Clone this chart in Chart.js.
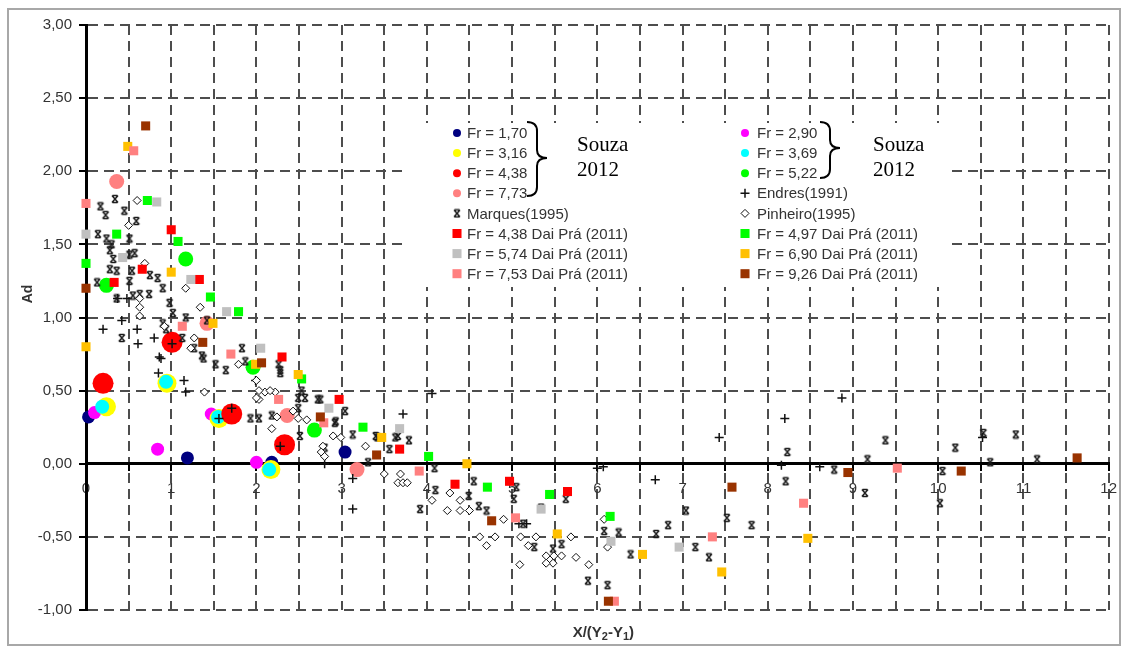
<!DOCTYPE html>
<html>
<head>
<meta charset="utf-8">
<script src="https://cdn.jsdelivr.net/npm/chart.js@4.4.1/dist/chart.umd.min.js"></script>
<style>
  html, body { margin: 0; padding: 0; background: #fff; }
  #wrap { width: 1127px; height: 649px; position: relative; }
</style>
</head>
<body>
<div id="wrap"><canvas id="c" width="1127" height="649"></canvas></div>
<script>
// ---- Souza (2012) runs, [X/(Y2-Y1), Ad] ----
const souza170 = [[0.03, 0.32], [1.19, 0.04], [2.18, 0.01], [3.04, 0.08]];
const souza290 = [[0.10, 0.35], [0.84, 0.10], [1.47, 0.34], [2.00, 0.01]];
const souza316 = [[0.24, 0.39], [0.95, 0.55], [1.56, 0.31], [2.17, -0.04]];
const souza369 = [[0.19, 0.39], [0.94, 0.56], [1.55, 0.32], [2.15, -0.04]];
const souza438 = [[0.20, 0.55], [1.01, 0.83], [1.71, 0.34], [2.33, 0.13]];
const souza522 = [[0.24, 1.22], [1.17, 1.40], [1.96, 0.66], [2.68, 0.23]];
const souza773 = [[0.36, 1.93], [1.42, 0.96], [2.36, 0.33], [3.18, -0.04]];

// ---- Endres (1991) ----
const endres1991 = [
  [0.20, 0.92], [0.42, 0.98], [0.60, 0.92], [0.61, 0.82], [0.80, 0.86], [0.88, 0.72],
  [0.37, 1.13], [0.48, 1.13], [0.86, 0.73], [0.85, 0.62], [1.01, 0.82], [1.17, 0.49],
  [1.15, 0.57], [1.56, 0.31], [1.71, 0.38], [1.99, 0.57], [2.28, 0.12], [2.80, 0.00],
  [3.13, -0.10], [3.13, -0.31], [3.72, 0.34], [4.06, 0.48], [5.08, -0.41], [5.17, -0.41],
  [6.00, -0.03], [6.07, -0.02], [6.68, -0.11], [7.43, 0.18], [8.16, -0.01], [8.20, 0.31],
  [8.61, -0.02], [8.87, 0.45], [10.52, 0.18]
];

// ---- Marques (1995) ----
const marques1995 = [
  [0.34, 1.81], [0.17, 1.76], [0.23, 1.70], [0.45, 1.73], [0.59, 1.66], [0.14, 1.57],
  [0.24, 1.54], [0.30, 1.50], [0.51, 1.54], [0.28, 1.46], [0.32, 1.40], [0.51, 1.43],
  [0.57, 1.44], [0.28, 1.33], [0.13, 1.24], [0.36, 1.32], [0.54, 1.32], [0.51, 1.25],
  [0.75, 1.29], [0.84, 1.27], [0.36, 1.13], [0.55, 1.15], [0.63, 1.16], [0.74, 1.16],
  [0.90, 1.20], [0.98, 1.10], [1.02, 1.03], [0.90, 0.96], [1.17, 1.00], [0.42, 0.86],
  [0.94, 0.92], [1.13, 0.86], [1.27, 0.79], [1.38, 0.72], [1.42, 0.98], [1.83, 0.79],
  [1.87, 0.70], [1.36, 0.74], [1.52, 0.68], [1.64, 0.64], [2.26, 0.68], [2.28, 0.64],
  [2.53, 0.50], [2.72, 0.44], [3.04, 0.36], [2.93, 0.29], [1.93, 0.31], [2.03, 0.31],
  [2.49, 0.38], [2.18, 0.33], [2.28, 0.62], [2.49, 0.45], [2.92, 0.28], [2.51, 0.19],
  [3.13, 0.20], [3.40, 0.19], [3.66, 0.19], [3.56, 0.10], [3.31, 0.01], [2.80, 0.11],
  [2.57, 0.45], [2.75, 0.44], [3.42, 0.18], [3.63, 0.18], [3.79, 0.16], [4.09, -0.03],
  [4.10, -0.18], [3.92, -0.31], [4.55, -0.12], [4.49, -0.22], [4.61, -0.29], [4.70, -0.32],
  [5.05, -0.16], [5.02, -0.24], [5.13, -0.41], [5.63, -0.24], [5.34, -0.30], [5.26, -0.57],
  [5.48, -0.58], [5.58, -0.55], [6.08, -0.46], [6.25, -0.47], [5.89, -0.80], [6.12, -0.83],
  [6.39, -0.62], [6.69, -0.48], [6.83, -0.42], [7.04, -0.32], [7.15, -0.57], [7.31, -0.64],
  [7.52, -0.37], [7.81, -0.42], [8.23, 0.08], [8.21, -0.12], [8.78, -0.04], [9.17, 0.03],
  [9.14, -0.20], [9.38, 0.16], [10.20, 0.11], [10.05, -0.05], [10.02, -0.27], [10.53, 0.21],
  [10.61, 0.01], [10.91, 0.20], [11.16, 0.03]
];

// ---- Pinheiro (1995) ----
const pinheiro1995 = [
  [0.60, 1.80], [0.50, 1.63], [0.69, 1.37], [1.17, 1.20], [1.34, 1.07], [0.63, 1.07],
  [0.63, 1.01], [0.92, 0.94], [1.27, 0.86], [0.63, 1.13], [1.39, 0.49], [1.23, 0.79],
  [1.79, 0.68], [2.10, 0.49], [2.22, 0.49], [2.03, 0.44], [2.24, 0.32], [2.49, 0.31],
  [2.59, 0.30], [2.90, 0.19], [2.78, 0.12], [2.76, 0.08], [2.18, 0.24], [2.00, 0.57],
  [2.03, 0.50], [2.00, 0.45], [2.16, 0.50], [2.43, 0.36], [2.80, 0.05], [2.99, 0.18],
  [3.28, 0.12], [3.50, -0.07], [3.69, -0.07], [3.66, -0.13], [3.72, -0.13], [3.77, -0.13],
  [4.06, -0.25], [4.27, -0.20], [4.24, -0.32], [4.39, -0.32], [4.39, -0.25], [4.50, -0.32],
  [4.62, -0.50], [4.70, -0.56], [4.80, -0.50], [4.90, -0.38], [5.09, -0.69], [5.10, -0.50],
  [5.19, -0.56], [5.28, -0.50], [5.40, -0.63], [5.49, -0.63], [5.48, -0.68], [5.40, -0.68],
  [5.58, -0.63], [5.69, -0.50], [5.75, -0.64], [5.90, -0.69], [6.08, -0.38], [6.12, -0.57]
];

// ---- Dai Prá (2011) ----
const daipra438 = [
  [0.33, 1.24], [0.66, 1.33], [1.00, 1.60], [1.33, 1.26], [2.30, 0.73], [2.97, 0.44],
  [3.68, 0.10], [4.33, -0.14], [4.97, -0.12], [5.65, -0.19]
];
const daipra497 = [
  [0.00, 1.37], [0.36, 1.57], [0.72, 1.80], [1.08, 1.52], [1.46, 1.14], [1.79, 1.04],
  [2.53, 0.58], [3.25, 0.25], [4.02, 0.05], [4.71, -0.16], [5.44, -0.21], [6.15, -0.36]
];
const daipra574 = [
  [0.00, 1.57], [0.43, 1.41], [0.83, 1.79], [1.23, 1.26], [1.65, 1.04], [2.05, 0.79],
  [2.85, 0.38], [3.68, 0.24], [5.34, -0.31], [6.16, -0.53], [6.96, -0.57]
];
const daipra690 = [
  [0.00, 0.80], [0.49, 2.17], [1.00, 1.31], [1.49, 0.96], [1.99, 0.68], [2.49, 0.61],
  [3.47, 0.18], [4.47, 0.00], [5.53, -0.48], [6.53, -0.62], [7.46, -0.74], [8.47, -0.51]
];
const daipra753 = [
  [0.00, 1.78], [0.56, 2.14], [1.13, 0.94], [1.70, 0.75], [2.26, 0.44], [2.79, 0.28],
  [3.91, -0.05], [5.04, -0.37], [6.20, -0.94], [7.35, -0.50], [8.42, -0.27], [9.52, -0.03]
];
const daipra926 = [
  [0.00, 1.20], [0.70, 2.31], [1.37, 0.83], [2.06, 0.69], [2.75, 0.32], [3.41, 0.06],
  [4.76, -0.39], [6.13, -0.94], [7.58, -0.16], [8.94, -0.06], [10.27, -0.05], [11.63, 0.04]
];

// axis ranges / ticks
const xRange = [0, 12];
const yRange = [-1, 3];
const gridStep = 0.5;

// series labels
const seriesLabels = [
  'Fr = 1,70', 'Fr = 2,90', 'Fr = 3,16', 'Fr = 3,69', 'Fr = 4,38', 'Fr = 5,22', 'Fr = 7,73',
  'Endres(1991)', 'Marques(1995)', 'Pinheiro(1995)',
  'Fr = 4,38 Dai Prá (2011)', 'Fr = 4,97 Dai Prá (2011)', 'Fr = 5,74 Dai Prá (2011)',
  'Fr = 6,90 Dai Prá (2011)', 'Fr = 7,53 Dai Prá (2011)', 'Fr = 9,26 Dai Prá (2011)'
];
// legend layout order (two columns, row by row)
const legendOrder = [0, 1, 2, 3, 4, 5, 6, 7, 8, 9, 10, 11, 12, 13, 14, 15];

// asterisk-like marker used for Marques(1995): an x with short serif bars
function starMark(size, lw) {
  const c = document.createElement('canvas');
  c.width = size; c.height = size;
  const g = c.getContext('2d');
  g.strokeStyle = '#1a1a1a';
  g.lineWidth = lw;
  const a = 1.5, b = size - 1.5, m = size / 2;
  g.beginPath();
  g.moveTo(a + 0.5, a); g.lineTo(b - 0.5, b);
  g.moveTo(b - 0.5, a); g.lineTo(a + 0.5, b);
  g.moveTo(m - 2.5, a); g.lineTo(m + 2.5, a);
  g.moveTo(m - 2.5, b); g.lineTo(m + 2.5, b);
  g.stroke();
  return c;
}
const marquesMark = starMark(10, 1.5);

const toPts = arr => arr.map(p => ({ x: p[0], y: p[1] }));

function circleSet(label, data, color, r) {
  return { label, data: toPts(data), pointStyle: 'circle', pointRadius: r,
    backgroundColor: color, borderColor: color, borderWidth: 0, legendRadius: 4 };
}
function squareSet(label, data, color) {
  return { label, data: toPts(data), pointStyle: 'rect', pointRadius: 6.4,
    backgroundColor: color, borderColor: color, borderWidth: 0, legendRadius: 6.4 };
}

const datasets = [
  circleSet(seriesLabels[0], souza170, '#000080', 6.5),
  circleSet(seriesLabels[1], souza290, '#ff00ff', 6.5),
  circleSet(seriesLabels[2], souza316, '#ffff00', 9.5),
  circleSet(seriesLabels[3], souza369, '#00ffff', 7),
  circleSet(seriesLabels[4], souza438, '#ff0000', 10.5),
  circleSet(seriesLabels[5], souza522, '#00ff00', 7.5),
  circleSet(seriesLabels[6], souza773, '#ff8080', 7.5),
  { label: seriesLabels[7], data: toPts(endres1991), pointStyle: 'cross', pointRadius: 4.5,
    backgroundColor: '#000', borderColor: '#111', borderWidth: 1.5, legendRadius: 4.5 },
  { label: seriesLabels[8], data: toPts(marques1995), pointStyle: marquesMark, pointRadius: 5,
    backgroundColor: '#000', borderColor: '#111', borderWidth: 0, legendRadius: 5 },
  { label: seriesLabels[9], data: toPts(pinheiro1995), pointStyle: 'rectRot', pointRadius: 4,
    backgroundColor: '#fff', borderColor: '#111', borderWidth: 1, legendRadius: 4 },
  squareSet(seriesLabels[10], daipra438, '#ff0000'),
  squareSet(seriesLabels[11], daipra497, '#00ff00'),
  squareSet(seriesLabels[12], daipra574, '#c0c0c0'),
  squareSet(seriesLabels[13], daipra690, '#ffc000'),
  squareSet(seriesLabels[14], daipra753, '#ff8080'),
  squareSet(seriesLabels[15], daipra926, '#993300')
].map((d, i) => Object.assign(d, { order: -i, clip: false, showLine: false }));

const TEXT = '#333';
const SANS = '"Liberation Sans", Arial, sans-serif';
const SERIF = '"Liberation Serif", "Times New Roman", serif';

// page background and outer frame
const framePlugin = {
  id: 'frame',
  beforeDraw(chart) {
    const ctx = chart.ctx;
    ctx.save();
    ctx.fillStyle = '#fff';
    ctx.fillRect(0, 0, chart.width, chart.height);
    ctx.strokeStyle = '#a8a8a8';
    ctx.lineWidth = 2;
    ctx.strokeRect(8, 9, chart.width - 15, chart.height - 13);
    ctx.restore();
  }
};

// axis titles (Ad, X/(Y2-Y1) with subscripts)
const titlePlugin = {
  id: 'axisTitles',
  afterDraw(chart) {
    const ctx = chart.ctx;
    const a = chart.chartArea;
    ctx.save();
    ctx.fillStyle = TEXT;
    ctx.font = 'bold 14px ' + SANS;
    ctx.textAlign = 'center';
    ctx.textBaseline = 'middle';
    ctx.translate(a.left - 58, a.top + 269);
    ctx.rotate(-Math.PI / 2);
    ctx.fillText('Ad', 0, 0);
    ctx.restore();

    ctx.save();
    ctx.fillStyle = TEXT;
    ctx.textBaseline = 'alphabetic';
    const parts = [['X/(Y', 0], ['2', 1], ['-Y', 0], ['1', 1], [')', 0]];
    const big = 'bold 15px ' + SANS, small = 'bold 11px ' + SANS;
    let w = 0;
    parts.forEach(p => { ctx.font = p[1] ? small : big; w += ctx.measureText(p[0]).width; });
    let x = (a.left + a.right) / 2 + 6 - w / 2;
    const base = a.bottom + 27;
    parts.forEach(p => {
      ctx.font = p[1] ? small : big;
      ctx.fillText(p[0], x, p[1] ? base + 3 : base);
      x += ctx.measureText(p[0]).width;
    });
    ctx.restore();
  }
};

// legend box inside the plot, two columns, with braces for Souza (2012)
const legendPlugin = {
  id: 'boxLegend',
  afterDraw(chart) {
    const ctx = chart.ctx;
    const box = { x: 403, y: 123, w: 547, h: 164 };
    ctx.save();
    ctx.fillStyle = '#fff';
    ctx.fillRect(box.x, box.y, box.w, box.h);
    const colMark = [457, 745], colText = [467, 757];
    const row0 = 133, rowH = 20.1;
    ctx.font = '15px ' + SANS;
    ctx.textBaseline = 'middle';
    ctx.textAlign = 'left';
    legendOrder.forEach((di, k) => {
      const ds = chart.data.datasets[di];
      const col = k % 2, row = Math.floor(k / 2);
      const y = row0 + row * rowH;
      ctx.save();
      ctx.fillStyle = ds.backgroundColor;
      ctx.strokeStyle = ds.borderColor;
      ctx.lineWidth = ds.borderWidth;
      Chart.helpers.drawPoint(ctx, { pointStyle: ds.pointStyle, rotation: 0,
        radius: ds.legendRadius, borderWidth: ds.borderWidth }, colMark[col], y);
      ctx.restore();
      ctx.fillStyle = TEXT;
      ctx.fillText(ds.label, colText[col], y + 1);
    });

    // curly braces
    function brace(x0, top, bottom, tipY) {
      const xs = x0 + 10, xt = x0 + 20;
      ctx.beginPath();
      ctx.moveTo(x0, top);
      ctx.quadraticCurveTo(xs, top, xs, top + 9);
      ctx.lineTo(xs, tipY - 8);
      ctx.quadraticCurveTo(xs, tipY, xt, tipY);
      ctx.quadraticCurveTo(xs, tipY, xs, tipY + 8);
      ctx.lineTo(xs, bottom - 9);
      ctx.quadraticCurveTo(xs, bottom, x0, bottom);
      ctx.stroke();
    }
    ctx.strokeStyle = '#000';
    ctx.lineWidth = 2;
    brace(527, 122, 196, 158);
    brace(820, 122, 178, 148);

    ctx.fillStyle = '#000';
    ctx.font = '21px ' + SERIF;
    ctx.textBaseline = 'alphabetic';
    ctx.fillText('Souza', 577, 151);
    ctx.fillText('2012', 577, 176);
    ctx.fillText('Souza', 873, 151);
    ctx.fillText('2012', 873, 176);
    ctx.restore();
  }
};

const fmt2 = v => v.toFixed(2).replace('.', ',');

new Chart(document.getElementById('c'), {
  type: 'scatter',
  data: { datasets },
  options: {
    responsive: false,
    animation: false,
    devicePixelRatio: 1,
    layout: { padding: { left: 0, top: 25, right: 10, bottom: 39 } },
    plugins: { legend: { display: false }, tooltip: { enabled: false } },
    scales: {
      x: {
        type: 'linear',
        position: { y: 0 },
        min: xRange[0], max: xRange[1],
        ticks: {
          stepSize: gridStep,
          autoSkip: false,
          maxRotation: 0,
          padding: 10,
          color: TEXT,
          font: { size: 15, family: SANS },
          callback: v => (Math.abs(v - Math.round(v)) < 1e-9 ? String(Math.round(v)) : '')
        },
        grid: { color: '#4d4d4d', lineWidth: 2, tickLength: 6, tickColor: '#000', tickWidth: 2 },
        border: { display: true, color: '#000', width: 3, dash: [10, 6] }
      },
      y: {
        type: 'linear',
        position: 'left',
        min: yRange[0], max: yRange[1],
        afterFit(scale) { scale.width = 86; },
        ticks: {
          stepSize: gridStep,
          padding: 7,
          color: TEXT,
          font: { size: 15, family: SANS },
          callback: v => fmt2(v)
        },
        grid: { color: '#4d4d4d', lineWidth: 2, tickLength: 7, tickColor: '#000', tickWidth: 2 },
        border: { display: true, color: '#000', width: 3, dash: [10, 6] }
      }
    }
  },
  plugins: [framePlugin, titlePlugin, legendPlugin]
});
</script>
</body>
</html>
